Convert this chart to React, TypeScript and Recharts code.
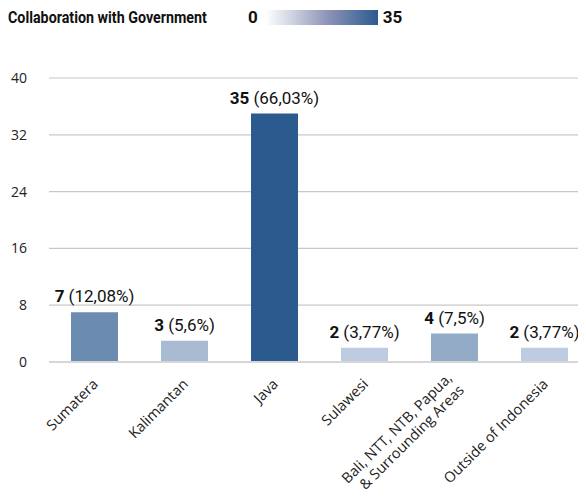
import { BarChart, Bar, XAxis, YAxis, CartesianGrid, LabelList, Cell } from 'recharts'

const regions = [
  'Sumatera',
  'Kalimantan',
  'Java',
  'Sulawesi',
  'Bali, NTT, NTB, Papua,\n& Surrounding Areas',
  'Outside of Indonesia',
]
const counts = [7, 3, 35, 2, 4, 2]
const shares = ['12,08%', '5,6%', '66,03%', '3,77%', '7,5%', '3,77%']
const yTicks = [0, 8, 16, 24, 32, 40]
const legendMin = 0
const legendMax = 35

// colour per bar (scale is not linear)
const barColors = ['#6b8bb0', '#a8bbd3', '#2b5a8e', '#bdcce0', '#94abc7', '#bdcce0']

const data = regions.map((region, i) => ({ region, count: counts[i], share: shares[i] }))

const labelFont = 'Roboto, "Open Sans", sans-serif'
const tickFont = '"Open Sans", "Noto Sans", sans-serif'

function RegionTick(props: any) {
  const { x, y, payload } = props
  const lines = String(payload.value).split('\n')
  const lh = 17
  return (
    <g transform={`translate(${x + 5},${y + 15})`}>
      <text
        transform="rotate(-45)"
        textAnchor="end"
        fill="#222"
        fontSize={14.5}
        fontFamily={tickFont}
      >
        {lines.map((line, i) => (
          <tspan key={i} x={0} dy={i === 0 ? -((lines.length - 1) * lh) / 2 : lh}>
            {line}
          </tspan>
        ))}
      </text>
    </g>
  )
}

function ValueLabel(props: any) {
  const { x, y, width, index } = props
  const d = data[index]
  return (
    <text
      x={x + width / 2}
      y={y - 10}
      textAnchor="middle"
      fill="#111"
      fontSize={17}
      fontFamily={labelFont}
    >
      <tspan fontWeight={700}>{d.count}</tspan>
      <tspan> ({d.share})</tspan>
    </text>
  )
}

export default function App() {
  return (
    <div
      style={{
        position: 'relative',
        width: 586,
        height: 497,
        margin: -8,
        overflow: 'hidden',
        background: '#fff',
      }}
    >
      <div
        style={{
          position: 'absolute',
          left: 8,
          top: 7,
          display: 'flex',
          alignItems: 'center',
          fontFamily: labelFont,
          fontWeight: 700,
          fontSize: 17,
          color: '#111',
          whiteSpace: 'nowrap',
        }}
      >
        <span style={{ display: 'inline-block', width: 222 }}>
          <span style={{ display: 'inline-block', transform: 'scaleX(0.84)', transformOrigin: 'left' }}>
            Collaboration with Government
          </span>
        </span>
        <span style={{ marginLeft: 18 }}>{legendMin}</span>
        <span
          style={{
            display: 'inline-block',
            width: 112,
            height: 15,
            marginLeft: 8,
            background: 'linear-gradient(to right, #ffffff, #8d94b8 55%, #2c5a8f)',
          }}
        />
        <span style={{ marginLeft: 5 }}>{legendMax}</span>
      </div>
      <BarChart
        width={590}
        height={497}
        data={data}
        margin={{ top: 78, right: 1, bottom: 0, left: 0 }}
        barSize={47}
      >
        <CartesianGrid vertical={false} stroke="#c8c8c8" strokeWidth={1.2} />
        <XAxis
          dataKey="region"
          interval={0}
          height={135}
          tick={<RegionTick />}
          tickLine={false}
          axisLine={{ stroke: '#d6d6d6', strokeWidth: 2 }}
        />
        <YAxis
          width={49}
          domain={[0, 40]}
          ticks={yTicks}
          tickLine={false}
          axisLine={false}
          tickSize={0}
          tickMargin={22}
          tick={{ fill: '#222', fontSize: 14, fontFamily: tickFont }}
        />
        <Bar dataKey="count" isAnimationActive={false}>
          {data.map((_, i) => (
            <Cell key={i} fill={barColors[i]} />
          ))}
          <LabelList dataKey="count" content={<ValueLabel />} />
        </Bar>
      </BarChart>
    </div>
  )
}
